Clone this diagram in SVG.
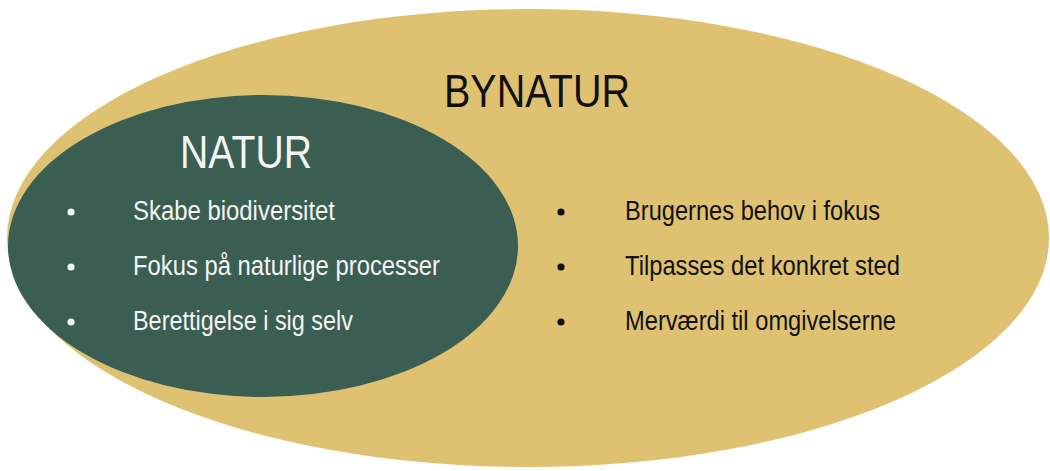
<svg xmlns="http://www.w3.org/2000/svg" width="1050" height="471" viewBox="0 0 1050 471">
<style>
.t{font-family:"Liberation Sans",Arial,sans-serif;}
.dark{fill:#111111;}
.light{fill:#F4F4F4;}
.item{font-size:27px;}
.title{font-size:47px;}
</style>
<rect width="1050" height="471" fill="#FFFFFF"/>
<g id="bynatur">
<ellipse cx="528" cy="238" rx="521" ry="229" fill="#DFC271"/>
<text class="t title dark" x="444" y="107" textLength="186" lengthAdjust="spacingAndGlyphs">BYNATUR</text>
<circle cx="561" cy="212" r="3.6" class="dark"/>
<circle cx="561" cy="267" r="3.6" class="dark"/>
<circle cx="561" cy="322" r="3.6" class="dark"/>
<text class="t item dark" x="625" y="220" textLength="255" lengthAdjust="spacingAndGlyphs">Brugernes behov i fokus</text>
<text class="t item dark" x="625" y="275" textLength="275" lengthAdjust="spacingAndGlyphs">Tilpasses det konkret sted</text>
<text class="t item dark" x="625" y="330" textLength="271" lengthAdjust="spacingAndGlyphs">Merværdi til omgivelserne</text>
</g>
<g id="natur">
<ellipse cx="263" cy="246" rx="255" ry="151" fill="#3A5E51"/>
<text class="t title light" x="180" y="168" textLength="132" lengthAdjust="spacingAndGlyphs">NATUR</text>
<circle cx="71" cy="212" r="3.6" class="light"/>
<circle cx="71" cy="267" r="3.6" class="light"/>
<circle cx="71" cy="322" r="3.6" class="light"/>
<text class="t item light" x="133" y="220" textLength="202" lengthAdjust="spacingAndGlyphs">Skabe biodiversitet</text>
<text class="t item light" x="133" y="275" textLength="307" lengthAdjust="spacingAndGlyphs">Fokus på naturlige processer</text>
<text class="t item light" x="133" y="330" textLength="220" lengthAdjust="spacingAndGlyphs">Berettigelse i sig selv</text>
</g>
<g id="connectors"/>
</svg>
